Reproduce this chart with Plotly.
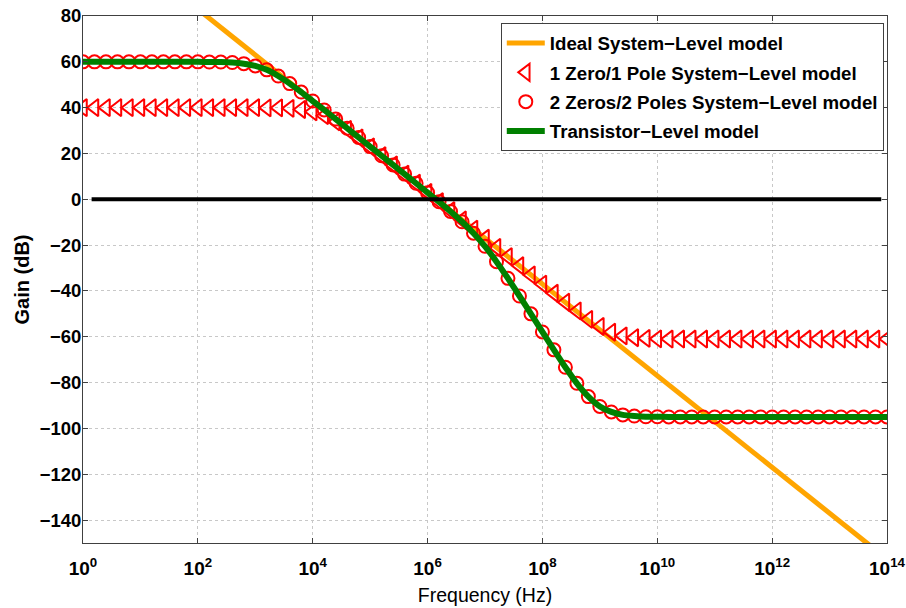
import numpy as np
import plotly.graph_objects as go

# ---------------- data ----------------
# sampling grid: 5 points per decade from 1 Hz to 1e14 Hz
freq = np.logspace(0, 14, 71)

one_zero_one_pole_gain = [
    40.0, 40.0, 40.0, 40.0, 40.0, 40.0, 40.0, 40.0, 40.0, 40.0,
    40.0, 40.0, 40.0, 40.0, 40.0, 40.0, 39.9, 39.9, 39.7, 39.2,
    38.2, 36.5, 33.8, 30.5, 26.8, 22.9, 19.0, 15.0, 11.0, 7.0,
    3.0, -1.0, -5.0, -9.0, -13.0, -17.0, -21.0, -25.0, -29.0, -33.0,
    -37.0, -41.0, -44.9, -48.7, -52.4, -55.5, -58.0, -59.6, -60.4, -60.7,
    -60.9, -61.0, -61.0, -61.0, -61.0, -61.0, -61.0, -61.0, -61.0, -61.0,
    -61.0, -61.0, -61.0, -61.0, -61.0, -61.0, -61.0, -61.0, -61.0, -61.0,
    -61.0,
]

two_zeros_two_poles_gain = [
    60.0, 60.0, 60.0, 60.0, 60.0, 60.0, 60.0, 60.0, 60.0, 60.0,
    60.0, 59.9, 59.9, 59.7, 59.2, 58.2, 56.5, 53.8, 50.5, 46.8,
    42.9, 39.0, 35.0, 31.0, 27.0, 23.0, 19.0, 15.0, 11.0, 7.0,
    2.9, -1.1, -5.3, -9.8, -14.8, -20.5, -27.2, -34.5, -42.2, -50.0,
    -57.9, -65.7, -73.3, -80.3, -86.1, -90.4, -92.8, -94.1, -94.6, -94.9,
    -94.9, -95.0, -95.0, -95.0, -95.0, -95.0, -95.0, -95.0, -95.0, -95.0,
    -95.0, -95.0, -95.0, -95.0, -95.0, -95.0, -95.0, -95.0, -95.0, -95.0,
    -95.0,
]

transistor_gain = [
    60.0, 60.0, 60.0, 60.0, 60.0, 60.0, 60.0, 60.0, 60.0, 60.0,
    60.0, 59.9, 59.9, 59.7, 59.2, 58.2, 56.5, 53.8, 50.5, 46.8,
    42.9, 39.0, 35.0, 31.0, 27.0, 23.0, 19.0, 15.0, 11.0, 7.0,
    2.9, -1.1, -5.3, -9.8, -14.8, -20.5, -27.2, -34.5, -42.2, -50.0,
    -57.9, -65.7, -73.3, -80.3, -86.1, -90.4, -92.8, -94.1, -94.6, -94.9,
    -94.9, -95.0, -95.0, -95.0, -95.0, -95.0, -95.0, -95.0, -95.0, -95.0,
    -95.0, -95.0, -95.0, -95.0, -95.0, -95.0, -95.0, -95.0, -95.0, -95.0,
    -95.0,
]

ideal_freq = [1.0, 1e14]
ideal_gain = [123.0, -157.0]

zero_line_freq = [10 ** 0.15, 10 ** 13.9]
zero_line_gain = [0.0, 0.0]

x_tick_vals = [1e0, 1e2, 1e4, 1e6, 1e8, 1e10, 1e12, 1e14]
x_tick_text = ["10<sup>0</sup>", "10<sup>2</sup>", "10<sup>4</sup>", "10<sup>6</sup>",
               "10<sup>8</sup>", "10<sup>10</sup>", "10<sup>12</sup>", "10<sup>14</sup>"]
y_tick_vals = [-140, -120, -100, -80, -60, -40, -20, 0, 20, 40, 60, 80]

names = [
    "Ideal System\u2212Level model",
    "1 Zero/1 Pole System\u2212Level model",
    "2 Zeros/2 Poles System\u2212Level model",
    "Transistor\u2212Level model",
]

# ---------------- figure ----------------
FONT = "Liberation Sans, Arial, Helvetica, sans-serif"

fig = go.Figure()

fig.add_trace(go.Scatter(
    x=ideal_freq, y=ideal_gain, mode="lines", name=names[0], legendgroup="a",
    line=dict(color="#FFA500", width=5),
))
fig.add_trace(go.Scatter(
    x=freq, y=one_zero_one_pole_gain, mode="markers", name=names[1], legendgroup="b",
    marker=dict(symbol="triangle-left-open", size=15, color="#FF0000",
                line=dict(color="#FF0000", width=2)),
))
fig.add_trace(go.Scatter(
    x=freq, y=two_zeros_two_poles_gain, mode="markers", name=names[2], legendgroup="c",
    marker=dict(symbol="circle-open", size=13, color="#FF0000",
                line=dict(color="#FF0000", width=2)),
))
fig.add_trace(go.Scatter(
    x=freq, y=transistor_gain, mode="lines", name=names[3], legendgroup="d",
    line=dict(color="#008000", width=6, shape="spline", smoothing=0.6),
))
fig.add_trace(go.Scatter(
    x=zero_line_freq, y=zero_line_gain, mode="lines", showlegend=False,
    line=dict(color="#000000", width=4), hoverinfo="skip",
))

axis_common = dict(
    showline=True, linecolor="#404040", linewidth=1, mirror="ticks",
    ticks="inside", ticklen=5, tickcolor="#404040", tickwidth=1,
    showgrid=True, gridcolor="#C8C8C8", gridwidth=1, griddash="dot",
    zeroline=False, automargin=False, ticklabeloverflow="allow",
)

fig.update_xaxes(
    type="log", range=[0, 14],
    tickvals=x_tick_vals, ticktext=x_tick_text,
    tickfont=dict(family=FONT, size=19, color="#000000", weight="bold"),
    ticklabelstandoff=8,
    title=dict(text="Frequency (Hz)", standoff=10,
               font=dict(family=FONT, size=19.5, color="#000000")),
    **axis_common,
)
fig.update_yaxes(
    range=[-150, 80], tickvals=y_tick_vals,
    tickfont=dict(family=FONT, size=18.5, color="#000000", weight="bold"),
    ticklabelstandoff=-3,
    title=dict(text="Gain (dB)", standoff=4,
               font=dict(family=FONT, size=20, color="#000000", weight="bold")),
    **axis_common,
)

fig.update_layout(
    width=906, height=608,
    margin=dict(l=83, r=19, t=16, b=65, autoexpand=False),
    paper_bgcolor="#FFFFFF", plot_bgcolor="#FFFFFF",
    font=dict(family=FONT, color="#000000"),
    legend=dict(
        x=0.996, y=0.986, xanchor="right", yanchor="top",
        bgcolor="#FFFFFF", bordercolor="#404040", borderwidth=1,
        font=dict(family=FONT, size=18.7, color="#000000", weight="bold"),
        traceorder="grouped", tracegroupgap=2, itemwidth=38,
    ),
    showlegend=True,
)

# remove the default 8px page margin so the figure fills the window exactly
fig.write_html(
    "out.html",
    config={"displayModeBar": False},
    post_script="document.body.style.margin='0';document.body.style.overflow='hidden';",
)
